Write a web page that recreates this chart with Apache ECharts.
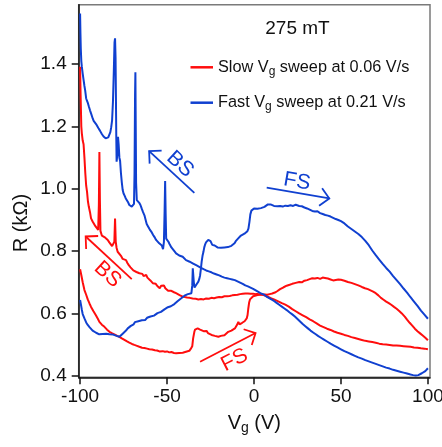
<!DOCTYPE html>
<html><head><meta charset="utf-8">
<script src="https://cdn.jsdelivr.net/npm/echarts@6.0.0/dist/echarts.min.js"></script>
<style>html,body{margin:0;padding:0;background:#fff}#c{width:442px;height:447px}</style>
</head><body><div id="c"></div>
<script>
const xTicks = [-100, -50, 0, 50, 100];
const yTicks = [0.4, 0.6, 0.8, 1.0, 1.2, 1.4];
const slowName = 'Slow Vg sweep at 0.06 V/s';
const fastName = 'Fast Vg sweep at 0.21 V/s';
const fieldLabel = '275 mT';

// Slow sweep, forward (FS): Vg (V), R (kOhm)
const slowFwd = [[-100,0.742],[-99.2,0.72],[-98.5,0.70],[-97.5,0.675],[-96.5,0.66],[-95.6,0.645],[-94.6,0.632],[-93.7,0.621],[-92.3,0.607],[-91,0.595],[-89.8,0.583],[-88.9,0.573],[-87.5,0.564],[-86,0.557],[-84.5,0.548],[-83.1,0.541],[-81.5,0.536],[-80,0.532],[-78.7,0.528],[-77.4,0.525],[-76,0.520],[-74.5,0.515],[-73,0.510],[-71.7,0.506],[-70.2,0.502],[-68.8,0.499],[-67.3,0.496],[-65.9,0.493],[-64.4,0.490],[-63,0.489],[-61.5,0.487],[-60.2,0.485],[-58.6,0.484],[-57,0.482],[-55.7,0.481],[-54.4,0.478],[-53.4,0.482],[-52.5,0.479],[-51.2,0.477],[-50,0.478],[-48.7,0.475],[-47.5,0.476],[-46,0.473],[-44.8,0.472],[-43.8,0.470],[-43,0.473],[-42,0.470],[-41,0.474],[-40,0.472],[-39.1,0.477],[-38,0.476],[-37.2,0.480],[-36.2,0.488],[-35.5,0.495],[-35,0.52],[-34.3,0.541],[-33.9,0.548],[-33.2,0.545],[-32.4,0.552],[-31.6,0.546],[-31,0.548],[-30,0.550],[-29,0.543],[-28.2,0.541],[-27.3,0.544],[-26.5,0.537],[-25.4,0.535],[-24.4,0.531],[-23.4,0.534],[-22.5,0.528],[-21.5,0.530],[-20.5,0.525],[-19.6,0.531],[-19,0.528],[-18,0.532],[-17,0.530],[-16,0.536],[-14.8,0.541],[-14,0.539],[-13,0.545],[-12,0.543],[-11,0.552],[-10,0.556],[-9.5,0.566],[-9,0.573],[-8.3,0.565],[-7.5,0.562],[-6.8,0.570],[-6.1,0.568],[-5.4,0.575],[-4.8,0.578],[-4.2,0.584],[-3.7,0.595],[-3.3,0.615],[-2.8,0.635],[-2.3,0.645],[-1.5,0.651],[-0.5,0.655],[0.6,0.659],[2,0.659],[3.5,0.660],[5,0.661],[6.3,0.661],[7.5,0.660],[9,0.662],[10.5,0.664],[12,0.667],[13.5,0.672],[15,0.678],[17,0.684],[18.8,0.689],[20.5,0.692],[22,0.695],[24,0.698],[26,0.701],[27.5,0.700],[29,0.705],[30.5,0.707],[32,0.710],[33.5,0.713],[35,0.712],[36.5,0.714],[38,0.711],[39.5,0.715],[40.8,0.714],[42.5,0.712],[44,0.709],[45.5,0.706],[46.5,0.710],[48.5,0.709],[50,0.708],[52,0.705],[54,0.701],[56,0.698],[58,0.694],[60,0.690],[62,0.685],[63.8,0.681],[65.5,0.678],[67,0.674],[68.5,0.670],[70,0.665],[71.5,0.658],[73,0.650],[74.5,0.644],[76,0.638],[77.5,0.633],[79.1,0.627],[80.5,0.621],[82,0.615],[83.5,0.608],[85,0.600],[86.8,0.589],[88,0.580],[89.5,0.570],[91,0.561],[92.5,0.551],[94,0.543],[95.5,0.536],[97,0.529],[98.5,0.522],[100,0.514]];

// Slow sweep, backward (BS)
const slowBwd = [[-100,1.392],[-99.7,1.30],[-99.3,1.20],[-99,1.178],[-98.5,1.155],[-98,1.143],[-97.5,1.10],[-97,1.05],[-96.5,1.01],[-96,0.99],[-95.5,0.96],[-95,0.943],[-94.3,0.925],[-93.7,0.905],[-92.8,0.895],[-92,0.89],[-91.2,0.88],[-90.4,0.876],[-89.6,0.868],[-89.2,0.95],[-88.9,1.118],[-88.6,0.96],[-88.3,0.865],[-87.5,0.85],[-87,0.846],[-86,0.845],[-85,0.84],[-84.1,0.836],[-83.2,0.828],[-82.5,0.824],[-81.6,0.816],[-80.8,0.814],[-80.3,0.83],[-79.9,0.905],[-79.5,0.83],[-79,0.81],[-78.4,0.798],[-77.4,0.793],[-76.5,0.785],[-75.5,0.775],[-74.5,0.772],[-73.6,0.771],[-72.8,0.762],[-72,0.755],[-71,0.748],[-70.2,0.742],[-69.4,0.738],[-68.5,0.735],[-67.6,0.733],[-66.8,0.737],[-65.9,0.729],[-65,0.730],[-64.2,0.727],[-63.5,0.720],[-62.8,0.716],[-62,0.724],[-61.3,0.715],[-60.5,0.710],[-59.6,0.706],[-58.8,0.700],[-58.2,0.697],[-57.3,0.693],[-56.5,0.695],[-55.6,0.688],[-54.8,0.684],[-54.2,0.681],[-53.4,0.689],[-52.6,0.684],[-51.8,0.690],[-51,0.681],[-50.2,0.677],[-49.4,0.673],[-48.6,0.670],[-47.8,0.673],[-47,0.669],[-46,0.668],[-44.8,0.665],[-43.8,0.661],[-42.8,0.659],[-41.8,0.656],[-41,0.654],[-40,0.653],[-38.5,0.651],[-37,0.650],[-35.3,0.648],[-33.5,0.647],[-32,0.645],[-30.5,0.646],[-29,0.645],[-27.5,0.648],[-26,0.647],[-24.5,0.650],[-23,0.649],[-21.5,0.651],[-20,0.653],[-18.5,0.652],[-17,0.655],[-15.5,0.655],[-14,0.656],[-12.5,0.658],[-11,0.659],[-9.5,0.660],[-8,0.662],[-6.5,0.663],[-5,0.664],[-3.5,0.664],[-2,0.663],[-0.5,0.663],[1,0.662],[2.5,0.662],[4,0.661],[5.5,0.659],[7,0.656],[8.5,0.652],[10,0.648],[11.5,0.645],[13,0.641],[14.5,0.637],[16,0.633],[18,0.628],[20,0.622],[22,0.614],[24,0.607],[26,0.600],[28,0.594],[30,0.588],[32,0.581],[34,0.575],[36,0.568],[38,0.561],[40,0.556],[42,0.551],[44,0.547],[46,0.542],[48,0.538],[50,0.535],[52,0.531],[54,0.528],[56,0.524],[58,0.521],[60,0.518],[62,0.515],[64,0.512],[66,0.510],[68,0.508],[70,0.506],[72,0.503],[74,0.501],[76,0.500],[78,0.499],[80,0.497],[82,0.497],[84,0.496],[86,0.495],[88,0.494],[90,0.493],[92,0.491],[94,0.490],[96,0.488],[98,0.487],[100,0.485]];

// Fast sweep, forward (FS)
const fastFwd = [[-100,0.643],[-99.5,0.628],[-99,0.612],[-98.5,0.598],[-97.5,0.584],[-96.5,0.571],[-95.6,0.563],[-94.6,0.556],[-93.7,0.550],[-92.8,0.545],[-91.8,0.541],[-90.8,0.538],[-90,0.536],[-89,0.533],[-88,0.531],[-87,0.534],[-86,0.533],[-85,0.535],[-84,0.532],[-83.1,0.533],[-82,0.531],[-81,0.532],[-80,0.529],[-79,0.528],[-78,0.526],[-77.4,0.525],[-76.5,0.530],[-75.5,0.535],[-74.5,0.540],[-73.6,0.545],[-72.6,0.552],[-71.7,0.557],[-70.8,0.560],[-70,0.566],[-69.2,0.565],[-68.5,0.572],[-67.5,0.571],[-66.5,0.575],[-65.5,0.574],[-64.5,0.578],[-63.5,0.580],[-62.5,0.579],[-61.5,0.586],[-60.5,0.588],[-59.5,0.590],[-58.5,0.594],[-57.5,0.593],[-56.5,0.599],[-55.5,0.601],[-54.5,0.606],[-53.5,0.605],[-52.5,0.611],[-51.5,0.613],[-50.5,0.615],[-49.5,0.620],[-48.7,0.624],[-47.8,0.623],[-46.8,0.628],[-45.8,0.630],[-44.8,0.635],[-43.8,0.640],[-42.8,0.645],[-42,0.648],[-41,0.652],[-40,0.657],[-39,0.660],[-38,0.662],[-37,0.663],[-36,0.665],[-35.5,0.690],[-35.2,0.745],[-34.9,0.748],[-34.6,0.70],[-34.2,0.683],[-33.8,0.681],[-33.2,0.692],[-32.6,0.688],[-32,0.702],[-31.5,0.71],[-31,0.722],[-30.5,0.745],[-30.1,0.766],[-29.6,0.785],[-29.1,0.797],[-28.6,0.812],[-28.2,0.820],[-27.6,0.828],[-27,0.833],[-26.3,0.836],[-25.5,0.838],[-25,0.832],[-24.5,0.826],[-24,0.820],[-23.4,0.816],[-22.6,0.818],[-22,0.813],[-21,0.812],[-20,0.810],[-19,0.811],[-18,0.809],[-17,0.812],[-16,0.811],[-15,0.813],[-14,0.814],[-13,0.817],[-12,0.821],[-11.2,0.825],[-10.5,0.832],[-10,0.833],[-9.2,0.840],[-8.5,0.846],[-7.5,0.850],[-6.5,0.852],[-5.5,0.856],[-4.5,0.860],[-3.8,0.864],[-3.2,0.872],[-2.6,0.895],[-2.1,0.918],[-1.5,0.930],[-0.8,0.936],[0,0.937],[1,0.934],[2,0.936],[3,0.935],[4,0.938],[5,0.937],[6,0.942],[7,0.945],[8,0.950],[8.8,0.955],[9.5,0.950],[10.5,0.947],[11.5,0.945],[12.5,0.946],[13.5,0.944],[15,0.945],[16.5,0.943],[18,0.946],[19.5,0.945],[21,0.947],[22.5,0.945],[24,0.949],[25,0.948],[26,0.945],[27.5,0.944],[29,0.940],[30.5,0.937],[32,0.933],[33.5,0.929],[35,0.927],[36.5,0.928],[38,0.922],[39.5,0.919],[41,0.916],[42.5,0.914],[44,0.911],[45.5,0.907],[47,0.903],[48.5,0.900],[50,0.896],[52,0.889],[54,0.879],[56,0.871],[58,0.863],[60,0.855],[62,0.845],[64,0.833],[66,0.819],[68,0.802],[70,0.787],[72,0.773],[74,0.759],[76,0.746],[78,0.734],[80,0.720],[82,0.707],[84,0.694],[86,0.680],[88,0.667],[90,0.652],[92,0.638],[94,0.624],[96,0.609],[98,0.596],[100,0.583]];

// Fast sweep, backward (BS)
const fastBwd = [[-100,1.563],[-99.8,1.50],[-99.6,1.45],[-99.3,1.41],[-99,1.392],[-98.5,1.37],[-98,1.35],[-97.5,1.33],[-97.1,1.317],[-96.5,1.29],[-96,1.282],[-95.5,1.275],[-95,1.265],[-94.3,1.252],[-93.7,1.242],[-93.3,1.237],[-92.7,1.225],[-92.2,1.218],[-91.6,1.212],[-91.1,1.214],[-90.5,1.205],[-90,1.203],[-89.5,1.195],[-89,1.193],[-88.5,1.186],[-88,1.183],[-87.5,1.176],[-87,1.172],[-86.5,1.168],[-86,1.166],[-85.3,1.162],[-84.5,1.161],[-83.8,1.165],[-83.2,1.170],[-82.6,1.182],[-82.1,1.198],[-81.6,1.22],[-81.1,1.28],[-80.6,1.38],[-80.2,1.47],[-79.9,1.483],[-79.6,1.42],[-79.4,1.30],[-79.2,1.17],[-79,1.087],[-78.6,1.11],[-78.2,1.167],[-77.8,1.14],[-77.4,1.10],[-77,1.09],[-76.5,1.05],[-76,1.02],[-75.5,0.996],[-75,0.985],[-74.4,0.978],[-73.8,0.970],[-73.2,0.964],[-72.5,0.958],[-71.7,0.948],[-71,0.946],[-70.3,0.943],[-69.6,0.947],[-69,0.952],[-68.7,1.05],[-68.4,1.30],[-68.2,1.374],[-68,1.20],[-67.8,1.02],[-67.4,0.964],[-66.6,0.958],[-66,0.955],[-65.3,0.948],[-64.6,0.937],[-63.8,0.925],[-63,0.915],[-62.3,0.900],[-61.7,0.887],[-61,0.880],[-60,0.870],[-59,0.862],[-58,0.852],[-57.2,0.845],[-56.3,0.836],[-55.4,0.830],[-54.5,0.825],[-53.6,0.821],[-53,0.818],[-52.3,0.806],[-51.8,0.83],[-51.4,0.93],[-51.1,1.025],[-50.8,0.92],[-50.5,0.84],[-50,0.836],[-49.2,0.830],[-48.5,0.822],[-47.5,0.812],[-46.7,0.809],[-45.8,0.800],[-44.8,0.793],[-43.8,0.790],[-43,0.786],[-42,0.784],[-41,0.782],[-40,0.776],[-39.1,0.771],[-38,0.769],[-37,0.766],[-36,0.763],[-35,0.760],[-34,0.757],[-33,0.754],[-32,0.751],[-31,0.748],[-30,0.745],[-29,0.742],[-27.5,0.738],[-26,0.735],[-24.5,0.732],[-23,0.728],[-21.5,0.725],[-20,0.722],[-18.5,0.718],[-17,0.715],[-15.5,0.713],[-14,0.711],[-12.5,0.709],[-11,0.707],[-9.5,0.703],[-8,0.699],[-6.5,0.695],[-5,0.690],[-3.5,0.687],[-2,0.683],[-0.5,0.679],[1,0.674],[2.5,0.669],[4,0.664],[5.5,0.661],[7,0.655],[8.5,0.650],[10,0.645],[11.5,0.640],[13,0.634],[14.5,0.628],[16,0.622],[17.5,0.616],[19,0.610],[20.5,0.603],[22,0.597],[23.5,0.590],[25,0.582],[26.5,0.574],[28,0.566],[29.5,0.559],[31,0.552],[32.5,0.545],[34,0.539],[35.5,0.533],[37,0.527],[38.5,0.522],[40,0.517],[42,0.510],[44,0.503],[46,0.497],[48,0.491],[50,0.485],[52,0.479],[54,0.474],[56,0.469],[58,0.464],[60,0.459],[62,0.455],[64,0.450],[66,0.446],[68,0.442],[70,0.438],[72,0.434],[74,0.430],[76,0.426],[78,0.423],[80,0.419],[82,0.416],[84,0.413],[86,0.410],[88,0.407],[90,0.404],[91.5,0.402],[93,0.401],[94.5,0.402],[95.5,0.404],[96.5,0.408],[97.5,0.411],[98.5,0.415],[99.3,0.419],[100,0.424]];

// Sweep-direction annotations, in data coordinates (Vg, R)
const arrowLabels = ['BS', 'BS', 'FS', 'FS'];
const arrowTips  = [[-60.3, 1.121], [-96.8, 0.847], [43.3, 0.969], [0.9, 0.537]];
const arrowTails = [[-34.3, 0.987], [-70.3, 0.710], [7.3, 1.004], [-31, 0.445]];
const labelSpots = [[-42.5, 1.079], [-84.2, 0.725], [24.7, 1.023], [-11.2, 0.450]];
const arrowIsFast = [true, false, true, false];

const RED = '#ff0d0d', BLUE = '#1040d0';
const FONT = "'Liberation Sans', Arial, Helvetica, sans-serif";

const chart = echarts.init(document.getElementById('c'), null, {renderer: 'canvas'});

function legendFmt(name) {
  const parts = name.split('Vg');
  return '{a|' + parts[0] + 'V}{s|g}{a|' + parts[1] + '}';
}

const lineSeries = (name, data, color) => ({
  name, type: 'line', data, showSymbol: false, symbol: 'none',
  lineStyle: {color, width: 2}, itemStyle: {color}, animation: false, z: 2
});

chart.setOption({
  animation: false,
  backgroundColor: '#fff',
  textStyle: {fontFamily: FONT},
  grid: {left: 78.7, right: 12, top: 4.7, bottom: 69.7, containLabel: false, outerBoundsMode: 'none',
    show: true, borderColor: '#7a7a7a', borderWidth: 1.5, backgroundColor: 'transparent'},
  legend: {
    left: 190.5, top: 59.3, orient: 'vertical', padding: 0, itemGap: 17.4,
    icon: 'rect', itemWidth: 22.5, itemHeight: 2.5, itemStyle: {borderWidth: 0},
    data: [slowName, fastName], selectedMode: false,
    formatter: legendFmt,
    textStyle: {
      color: '#111', fontFamily: FONT,
      rich: {
        a: {fontSize: 16.3, lineHeight: 20, fontFamily: FONT, color: '#111', verticalAlign: 'middle'},
        s: {fontSize: 12, lineHeight: 10, fontFamily: FONT, color: '#111', verticalAlign: 'bottom'}
      }
    }
  },
  xAxis: {
    type: 'value', min: -100.8, max: 101.2,
    name: '{a|V}{s|g}{a| (V)}', nameLocation: 'middle', nameGap: 34,
    nameTextStyle: {
      rich: {
        a: {fontSize: 20, lineHeight: 24, fontFamily: FONT, color: '#111', verticalAlign: 'middle'},
        s: {fontSize: 14, lineHeight: 11, fontFamily: FONT, color: '#111', verticalAlign: 'bottom'}
      }
    },
    axisLine: {onZero: false, lineStyle: {color: '#111', width: 1.5}},
    axisTick: {show: true, length: 7, customValues: xTicks, lineStyle: {color: '#111', width: 1.5}},
    axisLabel: {customValues: xTicks, margin: 10, fontSize: 19, color: '#111', fontFamily: FONT},
    splitLine: {show: false}
  },
  yAxis: {
    type: 'value', min: 0.395, max: 1.591,
    axisLine: {show: true, onZero: false, lineStyle: {color: '#111', width: 1.5}},
    axisTick: {show: true, length: 7, customValues: yTicks, lineStyle: {color: '#111', width: 1.5}},
    axisLabel: {customValues: yTicks, margin: 12, fontSize: 19, color: '#111', fontFamily: FONT,
      formatter: v => v.toFixed(1)},
    splitLine: {show: false}
  },
  series: [
    lineSeries(slowName, slowFwd, RED),
    lineSeries(slowName, slowBwd, RED),
    lineSeries(fastName, fastFwd, BLUE),
    lineSeries(fastName, fastBwd, BLUE)
  ]
});

// Build annotations
const px = p => chart.convertToPixel({gridIndex: 0}, p);
const graphics = [];
function headPts(tip, tail, len, ang) {
  const dx = tail[0] - tip[0], dy = tail[1] - tip[1];
  const d = Math.hypot(dx, dy), ux = dx / d, uy = dy / d;
  const r = (a) => [tip[0] + len * (ux * Math.cos(a) - uy * Math.sin(a)), tip[1] + len * (ux * Math.sin(a) + uy * Math.cos(a))];
  return [r(ang), tip, r(-ang)];
}
for (let i = 0; i < arrowLabels.length; i++) {
  const col = arrowIsFast[i] ? BLUE : RED;
  const tip = px(arrowTips[i]), tail = px(arrowTails[i]), lab = px(labelSpots[i]);
  graphics.push({type: 'line', shape: {x1: tail[0], y1: tail[1], x2: tip[0], y2: tip[1]}, style: {stroke: col, lineWidth: 1.8}, z: 10});
  graphics.push({type: 'polyline', shape: {points: headPts(tip, tail, 12.5, Math.PI / 4)}, style: {stroke: col, lineWidth: 1.8, fill: null}, z: 10});
  const L = tip[0] < tail[0] ? tip : tail, R = tip[0] < tail[0] ? tail : tip;
  const rot = -Math.atan2(R[1] - L[1], R[0] - L[0]);
  graphics.push({type: 'text', x: lab[0], y: lab[1], rotation: rot, z: 10,
    style: {text: arrowLabels[i], fill: col, font: '21px ' + FONT, align: 'center', verticalAlign: 'middle', textAlign: 'center', textVerticalAlign: 'middle'}});
}
graphics.push({type: 'text', x: 297.5, y: 29, z: 10,
  style: {text: fieldLabel, fill: '#111', font: '19px ' + FONT, align: 'center', verticalAlign: 'middle', textAlign: 'center', textVerticalAlign: 'middle'}});
graphics.push({type: 'text', x: 21, y: 223, rotation: Math.PI / 2, z: 10,
  style: {text: 'R (kΩ)', fill: '#111', font: '20px ' + FONT, align: 'center', verticalAlign: 'middle', textAlign: 'center', textVerticalAlign: 'middle'}});
chart.setOption({graphic: graphics});
</script>
</body></html>
